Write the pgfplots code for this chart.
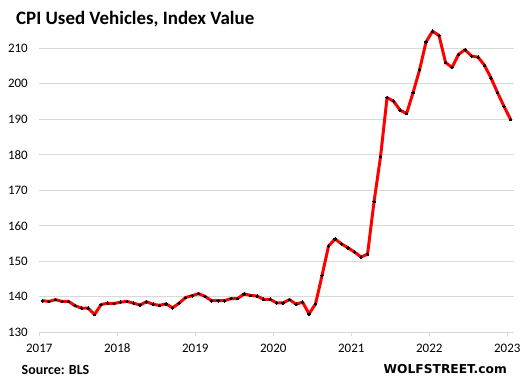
\documentclass[border=0pt]{standalone}
\usepackage{pgfplots}
\pgfplotsset{compat=1.18}
\usepackage{fontspec}
\setmainfont{Carlito}
\newfontfamily\wolffont{DejaVu Sans}
\definecolor{gridgray}{HTML}{D9D9D9}
\definecolor{linered}{HTML}{FF0000}
\begin{document}
\begin{tikzpicture}
\path[use as bounding box] (0,0) rectangle (525bp,387bp);
\begin{axis}[
  at={(39.3bp,54.7bp)}, anchor=south west, scale only axis,
  width=474.5bp, height=305.3bp,
  xmin=-0.5, xmax=72.5, ymin=130, ymax=216,
  clip=false,
  axis lines*=left,
  y axis line style={draw=none},
  x axis line style={gridgray, line width=1bp},
  ytick={130,140,...,210},
  ytick style={draw=none},
  xtick={-0.5,11.5,23.5,35.5,47.5,59.5,71.5},
  xticklabels={2017,2018,2019,2020,2021,2022,2023},
  xtick style={gridgray, line width=1bp},
  tick align=outside,
  major tick length=4bp,
  ymajorgrids,
  grid style={gridgray, line width=1bp},
  /pgf/number format/assume math mode=true,
  tick label style={font=\fontsize{13}{15}\selectfont},
  yticklabel style={anchor=east, xshift=-4bp},
  xticklabel style={anchor=north, yshift=-4bp},
]
\addplot[linered, line width=3bp, line join=round, mark=*, mark size=1.3bp,
  mark options={draw=black, fill=black, line width=0pt}] coordinates {
(0,138.9) (1,138.7) (2,139.2) (3,138.7) (4,138.7) (5,137.5) (6,136.8) (7,136.8)
(8,135.0) (9,137.8) (10,138.2) (11,138.1) (12,138.5) (13,138.7) (14,138.2) (15,137.7)
(16,138.6) (17,137.9) (18,137.6) (19,138.0) (20,136.9) (21,138.2) (22,139.8) (23,140.3)
(24,140.9) (25,140.1) (26,138.9) (27,138.9) (28,138.9) (29,139.5) (30,139.5) (31,140.8)
(32,140.4) (33,140.2) (34,139.3) (35,139.3) (36,138.3) (37,138.3) (38,139.2) (39,137.9)
(40,138.5) (41,135.2) (42,138.0) (43,146.0) (44,154.3) (45,156.3) (46,154.9) (47,153.8)
(48,152.6) (49,151.2) (50,152.0) (51,166.8) (52,179.5) (53,196.1) (54,195.1) (55,192.6)
(56,191.6) (57,197.5) (58,203.9) (59,211.8) (60,214.8) (61,213.6) (62,206.0) (63,204.6)
(64,208.3) (65,209.6) (66,207.8) (67,207.5) (68,205.2) (69,201.6) (70,197.5) (71,193.6)
(72,190.0)
};
\end{axis}
\node[anchor=base west, inner sep=0pt, font=\bfseries\fontsize{19}{22}\selectfont] at (16bp,362bp) {CPI Used Vehicles, Index Value};
\node[anchor=base west, inner sep=0pt, font=\bfseries\fontsize{14}{16}\selectfont] at (21.5bp,13bp) {Source: BLS};
\node[anchor=base east, inner sep=0pt, font=\wolffont\bfseries\fontsize{12.3}{14}\selectfont] at (507bp,13.5bp) {WOLFSTREET.com};
\end{tikzpicture}
\end{document}
